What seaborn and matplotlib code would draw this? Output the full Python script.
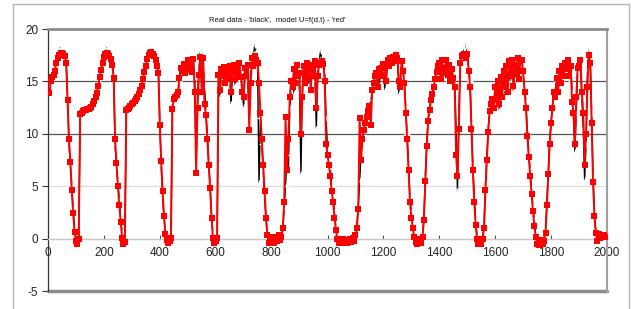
import matplotlib
matplotlib.use("Agg")
import matplotlib.pyplot as plt
from matplotlib.patches import Rectangle
import seaborn as sns
import pandas as pd

# sample index, one reading every 5 steps
x_vals = list(range(0, 2001, 5))

# real data (black)
real = [
    14.8, 15.0, 15.1, 15.3, 15.8, 16.3, 16.9, 17.4, 17.9, 18.2, 18.0, 17.8, 17.6, 16.9, 13.5, 9.2, 7.0, 5.0, 2.8, 1.0,
    0.1, -0.3, -0.1, 12.0, 12.1, 12.1, 12.2, 12.2, 12.3, 12.3, 12.4, 12.5, 12.7, 12.9, 13.3, 13.7, 14.4, 15.2, 15.9, 16.7,
    17.5, 17.9, 18.2, 18.0, 17.6, 17.2, 16.9, 15.6, 9.0, 6.8, 5.4, 3.7, 2.0, 0.5, -0.3, -0.2, 12.2, 12.3, 12.4, 12.5,
    12.6, 12.7, 12.9, 13.0, 13.3, 13.6, 14.0, 14.4, 15.0, 15.6, 16.3, 16.9, 17.5, 17.8, 18.0, 17.9, 17.7, 17.3, 16.8, 16.1,
    11.0, 7.0, 4.0, 2.0, 0.6, 0.1, -0.2, -0.3, -0.1, 12.9, 13.2, 13.4, 13.6, 13.9, 15.0, 16.0, 16.3, 15.8, 16.6, 16.2,
    16.8, 15.7, 16.5, 16.0, 16.9, 15.5, 7.0, 13.8, 16.0, 17.9, 15.2, 16.6, 14.5, 12.1, 9.9, 7.3, 5.1, 2.3, 0.5, -0.2,
    -0.3, 0.0, 15.2, 13.5, 15.8, 16.1, 15.0, 15.9, 14.8, 16.0, 15.4, 12.8, 15.7, 16.2, 14.6, 15.9, 16.3, 15.1, 16.0, 14.2,
    12.6, 15.8, 16.4, 15.0, 11.3, 16.2, 16.9, 17.4, 18.5, 17.8, 16.2, 5.3, 11.5, 9.0, 6.5, 4.0, 1.8, 0.4, -0.2, 0.1,
    -0.3, 0.0, -0.2, 0.2, -0.1, 0.1, -0.3, 0.0, 0.8, 3.0, 5.0, 8.0, 6.5, 12.5, 14.3, 15.5, 13.8, 16.0, 15.2, 16.3,
    14.0, 6.2, 14.8, 16.1, 15.3, 16.5, 14.6, 15.9, 16.4, 15.0, 16.3, 15.6, 10.5, 16.2, 16.8, 17.9, 17.2, 16.8, 16.0, 11.5,
    8.5, 7.5, 6.8, 5.0, 4.0, 2.5, 1.0, 0.3, -0.2, -0.3, 0.0, -0.2, 0.1, -0.3, -0.1, 0.0, -0.2, 0.1, -0.1, 0.2,
    0.5, 1.2, 3.0, 5.5, 8.0, 9.8, 10.6, 11.1, 11.5, 12.0, 12.5, 13.2, 14.0, 14.6, 15.2, 15.5, 15.8, 14.6, 16.0, 16.2,
    16.4, 14.2, 16.5, 16.7, 16.6, 16.9, 17.0, 16.8, 17.3, 17.6, 18.0, 13.8, 15.5, 16.6, 15.9, 15.2, 12.5, 10.0, 7.0, 4.0,
    2.5, 1.5, 0.5, 0.0, -0.3, -0.2, 0.1, -0.3, 0.3, 2.0, 6.0, 9.0, 11.5, 12.5, 13.1, 13.6, 14.2, 15.0, 15.6, 16.2,
    16.4, 15.5, 16.8, 16.0, 16.6, 15.2, 16.9, 16.1, 15.4, 15.6, 14.8, 15.3, 10.5, 4.5, 12.0, 16.5, 17.2, 17.6, 18.2, 18.5,
    17.8, 16.5, 15.0, 11.0, 7.0, 4.0, 1.8, 0.2, -0.3, -0.4, -0.1, 0.2, 1.2, 5.0, 7.8, 10.5, 12.0, 12.6, 13.0, 13.5,
    14.0, 13.6, 14.5, 12.2, 15.0, 14.2, 15.5, 13.8, 16.0, 14.5, 16.5, 15.0, 16.8, 14.0, 16.2, 15.3, 17.0, 15.8, 16.6, 17.0,
    15.5, 14.5, 13.0, 10.0, 8.2, 6.5, 4.8, 3.0, 1.8, 0.5, -0.2, -0.4, -0.3, 0.0, -0.2, 0.1, 0.8, 3.5, 6.5, 9.5,
    11.2, 12.8, 13.8, 14.3, 15.0, 14.2, 15.5, 15.0, 16.0, 15.4, 16.3, 16.9, 16.5, 15.2, 16.7, 14.0, 11.5, 8.3, 12.0, 16.0,
    16.3, 16.6, 13.5, 10.5, 5.6, 9.0, 16.0, 18.0, 17.2, 12.0, 6.0, 2.5, 0.6, -0.1, 0.2, -0.1, 0.1, 0.0, 0.1, 0.0,
    0.0,
]

# model U=f(d,t) (red)
model = [
    14.2, 13.9, 15.0, 15.4, 15.6, 16.0, 16.8, 17.2, 17.5, 17.7, 17.7, 17.6, 17.4, 16.8, 13.2, 9.5, 7.3, 4.6, 2.4, 0.6,
    -0.2, -0.5, 0.0, 11.9, 12.0, 12.2, 12.3, 12.3, 12.4, 12.4, 12.5, 12.6, 12.8, 13.1, 13.5, 13.9, 14.6, 15.4, 16.1, 16.8,
    17.3, 17.6, 17.7, 17.6, 17.4, 17.1, 16.6, 15.3, 9.5, 7.2, 5.0, 3.2, 1.6, 0.1, -0.5, -0.3, 12.3, 12.4, 12.5, 12.7,
    12.8, 12.9, 13.1, 13.3, 13.5, 13.8, 14.2, 14.6, 15.2, 15.9, 16.5, 17.1, 17.5, 17.7, 17.8, 17.6, 17.4, 17.0, 16.5, 15.8,
    10.8, 7.4, 4.5, 2.2, 0.4, -0.1, -0.4, -0.2, 0.1, 12.4, 13.3, 13.5, 13.7, 14.0, 15.3, 16.3, 16.0, 16.7, 15.8, 16.5,
    17.0, 16.2, 16.8, 15.9, 17.1, 14.0, 6.3, 12.5, 15.6, 17.3, 14.0, 17.2, 12.8, 11.8, 9.5, 7.0, 4.8, 2.0, 0.1, -0.4,
    -0.2, 0.1, 15.6, 14.2, 16.2, 15.5, 16.4, 14.8, 16.1, 15.2, 16.5, 14.0, 15.9, 16.6, 15.2, 16.4, 15.6, 16.8, 15.4, 14.0,
    13.5, 16.3, 15.5, 16.6, 10.4, 14.8, 17.2, 16.5, 17.4, 17.0, 16.8, 14.8, 12.0, 9.5, 7.0, 4.5, 2.0, 0.3, -0.4, -0.1,
    -0.3, 0.2, -0.4, 0.0, -0.2, 0.3, -0.1, 0.2, 1.0, 3.5, 11.6, 6.5, 9.5, 13.5, 15.0, 14.5, 16.2, 14.8, 16.6, 15.5,
    15.8, 10.0, 13.5, 16.5, 14.8, 16.8, 15.3, 16.2, 14.2, 16.6, 15.5, 16.9, 12.5, 15.5, 16.6, 16.8, 16.9, 16.7, 15.0, 9.0,
    8.0, 7.0, 6.0, 4.5, 3.5, 2.0, 0.8, 0.0, -0.4, -0.2, -0.4, 0.0, -0.3, -0.1, -0.4, -0.2, 0.0, -0.3, 0.1, -0.2,
    0.3, 1.0, 2.8, 11.5, 7.5, 9.5, 10.4, 11.0, 11.6, 12.2, 12.7, 10.8, 14.2, 14.8, 15.5, 15.8, 14.5, 16.2, 16.3, 15.5,
    16.7, 16.3, 15.0, 17.0, 16.5, 17.2, 16.8, 17.3, 16.9, 17.5, 17.2, 15.0, 14.5, 16.9, 16.0, 14.8, 12.0, 9.5, 6.5, 3.5,
    2.0, 1.0, 0.2, -0.3, -0.5, -0.3, 0.0, -0.4, 0.2, 1.8, 5.5, 8.8, 11.2, 12.3, 13.2, 13.8, 14.5, 15.2, 15.9, 16.5,
    16.8, 15.2, 17.0, 15.8, 16.3, 17.0, 15.6, 16.6, 15.0, 16.2, 15.3, 14.5, 8.0, 6.0, 10.5, 16.8, 17.4, 17.5, 17.6, 17.2,
    17.6, 16.0, 14.5, 10.5, 6.5, 3.5, 1.3, 0.0, -0.5, -0.3, -0.5, 0.0, 1.0, 4.6, 7.5, 10.2, 12.2, 12.8, 13.3, 12.5,
    14.5, 13.2, 15.0, 12.8, 15.4, 13.5, 16.0, 14.6, 16.5, 14.0, 16.9, 15.5, 17.0, 14.6, 16.6, 15.8, 17.2, 15.2, 16.9, 17.0,
    16.0, 14.0, 12.5, 9.8, 7.8, 6.0, 4.3, 2.6, 1.2, 0.2, -0.5, -0.6, -0.4, -0.1, -0.5, -0.2, 0.5, 3.2, 6.2, 9.0,
    11.0, 12.5, 14.0, 13.5, 15.3, 14.0, 16.0, 14.8, 16.5, 15.5, 16.8, 16.2, 17.0, 15.5, 16.5, 13.0, 12.0, 9.0, 13.5, 16.3,
    16.5, 17.0, 14.0, 12.0, 7.0, 10.0, 14.5, 17.5, 16.8, 11.0, 5.4, 2.2, 0.5, -0.2, 0.4, 0.1, 0.3, 0.2, 0.3, 0.2,
    0.2,
]

x_ticks = [0, 200, 400, 600, 800, 1000, 1200, 1400, 1600, 1800, 2000]
y_ticks = [-5, 0, 5, 10, 15, 20]
title = "Real data - 'black',  model U=f(d,t) - 'red'"

assert len(real) == len(x_vals) and len(model) == len(x_vals)
df = pd.DataFrame({"x": x_vals, "real": real, "model": model})

sns.set_theme(style="white")
plt.rcParams["font.family"] = ["Liberation Sans", "DejaVu Sans"]

fig = plt.figure(figsize=(6.33, 3.09), dpi=100)
ax = fig.add_axes([48 / 633, 18 / 309, 559 / 633, 262 / 309])

# outer chart border
fig.patches.append(Rectangle((13 / 633, -0.05), 616 / 633, 1.05 - 4 / 309,
                             transform=fig.transFigure, fill=False,
                             edgecolor="#b4b4b4", linewidth=1.0))

# grid lines like the original
ax.axhline(15, color="#555555", lw=0.9, zorder=0)
ax.axhline(10, color="#555555", lw=0.9, zorder=0)
ax.axhline(5, color="#dddddd", lw=0.9, zorder=0)
ax.axhline(0, color="#c8c8c8", lw=0.9, zorder=0)

sns.lineplot(data=df, x="x", y="real", ax=ax, color="black", lw=1.0,
             marker="+", markersize=4.5, markeredgewidth=1.0, sort=False, zorder=2)
sns.lineplot(data=df, x="x", y="model", ax=ax, color="#ff0000", lw=1.4,
             marker="s", markersize=4.0, markeredgewidth=0, sort=False, zorder=3)

ax.set_xlim(0, 2000)
ax.set_ylim(-5, 20)
ax.set_xlabel("")
ax.set_ylabel("")

ax.set_yticks(y_ticks)
ax.set_yticklabels([str(v) for v in y_ticks], fontsize=8.5, color="#222222")
ax.tick_params(axis="y", direction="out", length=4, width=0.8, color="#333333", pad=3, left=True)

# x axis crosses at y = 0
ax.spines["bottom"].set_position(("data", 0))
ax.spines["bottom"].set_color("#c8c8c8")
ax.spines["bottom"].set_linewidth(0.9)
ax.set_xticks(x_ticks)
ax.set_xticklabels([str(v) for v in x_ticks], fontsize=8.5, color="#222222")
ax.tick_params(axis="x", direction="in", length=3, width=0.8, color="#555555", pad=6, bottom=True)

ax.spines["left"].set_color("#333333")
ax.spines["left"].set_linewidth(0.9)
ax.spines["top"].set_color("#8c8c8c")
ax.spines["top"].set_linewidth(2.0)
ax.spines["right"].set_color("#a0a0a0")
ax.spines["right"].set_linewidth(1.5)
# bottom frame of the plot area at -5
ax.axhline(-5, color="#8c8c8c", lw=2.5, clip_on=False, zorder=1)

fig.text(277 / 633, 1 - 21 / 309, title, ha="center", va="center", fontsize=5.5, color="#111111")

fig.savefig("out.png", dpi=100)
